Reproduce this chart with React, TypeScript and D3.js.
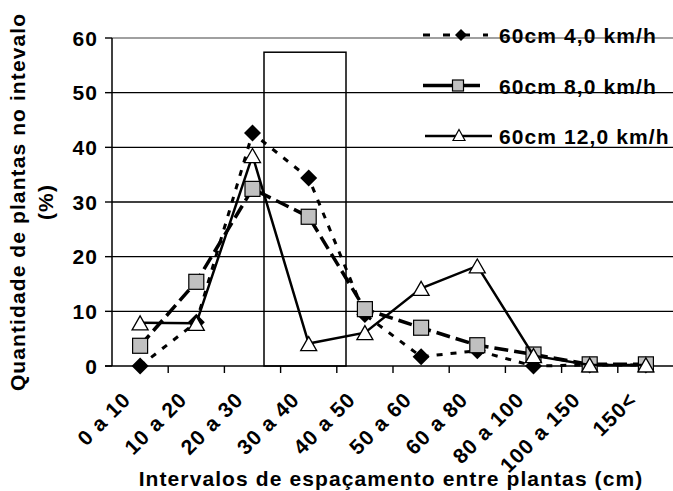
import React from "react";
import * as d3 from "d3";

// Spacing classes (cm) and share of plants per class (%)
const categories = ["0 a 10", "10 a 20", "20 a 30", "30 a 40", "40 a 50", "50 a 60", "60 a 80", "80 a 100", "100 a 150", "150<"];
const speed4 = [0, 8.0, 42.6, 34.4, 9.4, 1.7, 2.8, 0, 0.2, 0.2];
const speed8 = [3.7, 15.4, 32.4, 27.3, 10.4, 7.0, 3.8, 2.1, 0.3, 0.3];
const speed12 = [7.9, 7.8, 38.5, 4.1, 6.1, 14.2, 18.3, 1.9, 0.2, 0.2];
const seriesNames = ["60cm  4,0 km/h", "60cm  8,0 km/h", "60cm  12,0 km/h"];
const yTicks = [0, 10, 20, 30, 40, 50, 60];
const boxTop = 57.4;

const W = 673;
const H = 491;
const FONT = "'Liberation Sans', Arial, sans-serif";

export default function App() {
  const x = d3.scaleBand<string>().domain(categories).range([112, 674]);
  const y = d3.scaleLinear().domain([0, 60]).range([366, 38]);
  const cx = (c: string) => (x(c) as number) + x.bandwidth() / 2;

  const line = d3.line<number>().x((_, i) => cx(categories[i])).y((v) => y(v));

  const diamond = (px: number, py: number, r: number) =>
    `M${px},${py - r}L${px + r},${py}L${px},${py + r}L${px - r},${py}Z`;
  const triangle = (px: number, py: number, w: number, h: number) =>
    `M${px},${py - h / 2}L${px + w / 2},${py + h / 2}L${px - w / 2},${py + h / 2}Z`;

  const textStyle = { fontFamily: FONT, fontWeight: 700, fontSize: 21, letterSpacing: 1.1 } as const;

  const legendRows = [35, 85.5, 136];

  return (
    <svg width={W} height={H} style={{ position: "absolute", left: 0, top: 0 }}>
      <rect width={W} height={H} fill="#fff" />

      {/* gridlines */}
      {yTicks.slice(1).map((t) => (
        <line
          key={t}
          x1={112}
          x2={674}
          y1={y(t)}
          y2={y(t)}
          stroke={t === 60 ? "#808080" : "#000"}
          strokeWidth={1.4}
        />
      ))}

      {/* highlighted class box */}
      <rect
        x={264}
        y={y(boxTop)}
        width={82}
        height={y(0) - y(boxTop)}
        fill="none"
        stroke="#000"
        strokeWidth={1.5}
      />

      {/* axes */}
      <line x1={112} x2={112} y1={y(60)} y2={y(0)} stroke="#000" strokeWidth={1.5} />
      <line x1={105} x2={674} y1={y(0)} y2={y(0)} stroke="#000" strokeWidth={1.5} />
      {yTicks.map((t) => (
        <g key={t}>
          <line x1={105} x2={112} y1={y(t)} y2={y(t)} stroke="#000" strokeWidth={1.4} />
          <text x={98} y={y(t) + 7.5} textAnchor="end" {...textStyle}>
            {t}
          </text>
        </g>
      ))}
      {categories.map((c) => (
        <line
          key={c}
          x1={(x(c) as number) + x.bandwidth()}
          x2={(x(c) as number) + x.bandwidth()}
          y1={y(0)}
          y2={y(0) + 7}
          stroke="#000"
          strokeWidth={1.4}
        />
      ))}
      {categories.map((c) => (
        <text
          key={c}
          transform={`translate(${cx(c) - 8},${401}) rotate(-45)`}
          textAnchor="end"
          {...textStyle}
        >
          {c}
        </text>
      ))}

      {/* axis titles */}
      <text x={391} y={486} textAnchor="middle" {...textStyle}>
        Intervalos de espaçamento entre plantas (cm)
      </text>
      <text transform="translate(25,202) rotate(-90)" textAnchor="middle" {...textStyle}>
        Quantidade de plantas no intevalo
      </text>
      <text transform="translate(53,202) rotate(-90)" textAnchor="middle" {...textStyle}>
        (%)
      </text>

      {/* 4,0 km/h */}
      <path d={line(speed4) as string} fill="none" stroke="#000" strokeWidth={3} strokeDasharray="6,8" />
      {speed4.map((v, i) => (
        <path key={i} d={diamond(cx(categories[i]), y(v), 8.5)} fill="#000" />
      ))}

      {/* 8,0 km/h */}
      <path d={line(speed8) as string} fill="none" stroke="#000" strokeWidth={3.5} strokeDasharray="14,6" />
      {speed8.map((v, i) => (
        <rect
          key={i}
          x={cx(categories[i]) - 7.5}
          y={y(v) - 7.5}
          width={15}
          height={15}
          fill="#c0c0c0"
          stroke="#000"
          strokeWidth={1.2}
        />
      ))}

      {/* 12,0 km/h */}
      <path d={line(speed12) as string} fill="none" stroke="#000" strokeWidth={2.5} />
      {speed12.map((v, i) => (
        <path
          key={i}
          d={triangle(cx(categories[i]), y(v), 16, 14)}
          fill="#fff"
          stroke="#000"
          strokeWidth={1.3}
        />
      ))}

      {/* legend */}
      <line x1={423} x2={488} y1={legendRows[0]} y2={legendRows[0]} stroke="#000" strokeWidth={3} strokeDasharray="7,13" />
      <path d={diamond(461, legendRows[0], 6)} fill="#000" />
      <line x1={423} x2={480} y1={legendRows[1]} y2={legendRows[1]} stroke="#000" strokeWidth={3.5} />
      <rect x={452.5} y={legendRows[1] - 5.5} width={11} height={11} fill="#c0c0c0" stroke="#000" strokeWidth={1.2} />
      <line x1={425} x2={492} y1={legendRows[2]} y2={legendRows[2]} stroke="#000" strokeWidth={2.5} />
      <path d={triangle(459, legendRows[2] - 1, 12, 11)} fill="#fff" stroke="#000" strokeWidth={1.2} />
      {seriesNames.map((n, i) => (
        <text key={n} x={499} y={legendRows[i] + 8} {...textStyle}>
          {n}
        </text>
      ))}
    </svg>
  );
}
